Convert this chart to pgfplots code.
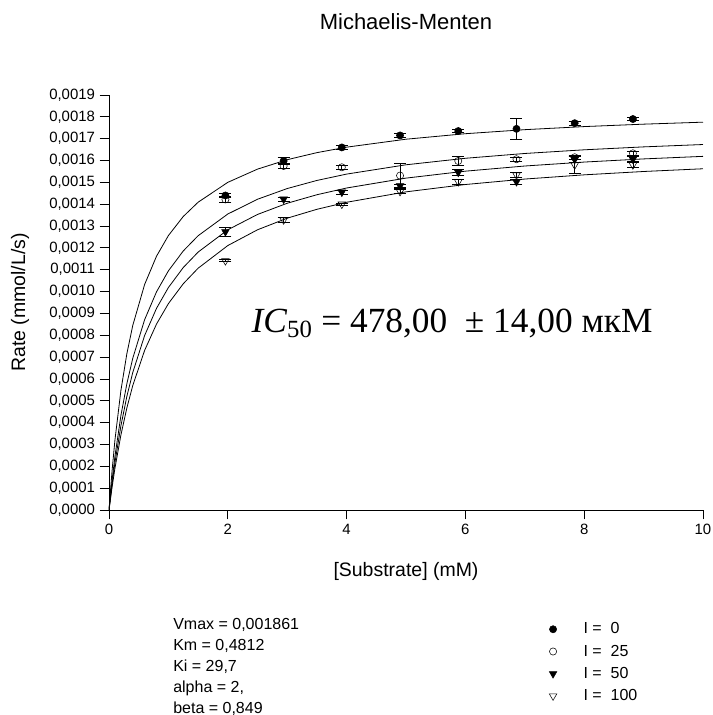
\documentclass[border=0pt]{standalone}
\usepackage{fontspec}
\setmainfont{Liberation Sans}
\newfontfamily\eqfont{Liberation Serif}
\usepackage{pgfplots}
\pgfplotsset{compat=1.18}

\begin{document}
\begin{tikzpicture}[x=0.75pt,y=0.75pt]
% picture frame in reference pixels, origin at the axis corner
\path[use as bounding box] (-109,-205) rectangle (604,510);
\begin{axis}[at={(0,0)}, anchor=south west, scale only axis, width=445.5pt, height=311.25pt,
  xmin=0, xmax=10, ymin=0, ymax=0.0019,
  axis x line*=bottom, axis y line*=left, axis line style={-, black, line width=0.6pt},
  xtick={0,2,4,6,8,10},
  ytick={0,0.0001,0.0002,0.0003,0.0004,0.0005,0.0006,0.0007,0.0008,0.0009,0.0010,0.0011,0.0012,0.0013,0.0014,0.0015,0.0016,0.0017,0.0018,0.0019},
  scaled y ticks=false,
  yticklabel style={/pgf/number format/.cd, fixed, fixed zerofill, precision=4, use comma, 1000 sep={}},
  /pgf/number format/assume math mode=true,
  tick align=outside, major tick length=7pt, tick style={black, line width=0.6pt},
  tick label style={font=\fontsize{11.2}{13}\selectfont},
  xlabel={[Substrate] (mM)}, ylabel={Rate (mmol/L/s)},
  label style={font=\fontsize{14.6}{17}\selectfont},
  xlabel style={at={(axis description cs:0.5,-0.147)}, anchor=center},
  ylabel style={at={(axis description cs:-0.1498,0.5)}, anchor=center},
  title={Michaelis-Menten}, title style={at={(axis description cs:0.5,1.1566)}, anchor=center, font=\fontsize{16.5}{19}\selectfont},
  legend style={draw=none, fill=none, at={(axis description cs:0.734,-0.258)}, anchor=north west,
    font=\fontsize{12}{14}\selectfont, row sep=2.8pt, /tikz/every odd column/.append style={column sep=18pt}},
  legend cell align=left,
  error bars/error bar style={black, line width=0.6pt},
  error bars/error mark options={rotate=90, black, mark size=4.5pt, line width=0.6pt},
]
% fitted curves
\addplot[black, line width=0.6pt, forget plot] coordinates {
(0,0) (0.05,0.0001752) (0.1,0.0003202) (0.2,0.0005464) (0.3,0.0007147) (0.4,0.0008448) (0.6,0.0010327) (0.8,0.0011620) (1,0.0012564) (1.25,0.0013437) (1.5,0.0014090) (2,0.0015001) (2.5,0.0015606) (3,0.0016038) (3.5,0.0016361) (4,0.0016612) (5,0.0016976) (6,0.0017228) (7,0.0017413) (8,0.0017554) (9,0.0017665) (10,0.0017756)};
\addplot[black, line width=0.6pt, forget plot] coordinates {
(0,0) (0.05,0.0001319) (0.1,0.0002456) (0.2,0.0004316) (0.3,0.0005773) (0.4,0.0006946) (0.6,0.0008716) (0.8,0.0009989) (1,0.0010948) (1.25,0.0011859) (1.5,0.0012556) (2,0.0013551) (2.5,0.0014227) (3,0.0014717) (3.5,0.0015088) (4,0.0015379) (5,0.0015805) (6,0.0016103) (7,0.0016323) (8,0.0016491) (9,0.0016625) (10,0.0016733)};
\addplot[black, line width=0.6pt, forget plot] coordinates {
(0,0) (0.05,0.0001153) (0.1,0.0002163) (0.2,0.0003846) (0.3,0.0005192) (0.4,0.0006294) (0.6,0.0007990) (0.8,0.0009234) (1,0.0010185) (1.25,0.0011100) (1.5,0.0011807) (2,0.0012829) (2.5,0.0013531) (3,0.0014044) (3.5,0.0014434) (4,0.0014742) (5,0.0015195) (6,0.0015513) (7,0.0015749) (8,0.0015930) (9,0.0016074) (10,0.0016191)};
\addplot[black, line width=0.6pt, forget plot] coordinates {
(0,0) (0.05,0.0001011) (0.1,0.0001908) (0.2,0.0003427) (0.3,0.0004666) (0.4,0.0005696) (0.6,0.0007309) (0.8,0.0008514) (1,0.0009448) (1.25,0.0010358) (1.5,0.0011069) (2,0.0012107) (2.5,0.0012829) (3,0.0013360) (3.5,0.0013767) (4,0.0014089) (5,0.0014566) (6,0.0014902) (7,0.0015152) (8,0.0015345) (9,0.0015498) (10,0.0015623)};
% measured rates
\addplot[only marks, mark=*, mark size=2.7pt, black, error bars/.cd, y dir=both, y explicit] coordinates {
(1.96,0.001440) +- (0,0.000010) (2.94,0.001598) +- (0,0.000015) (3.92,0.001660) +- (0,0.000008) (4.90,0.001715) +- (0,0.000010)
(5.88,0.001735) +- (0,0.000008) (6.86,0.001745) +- (0,0.000050) (7.84,0.001771) +- (0,0.000008) (8.82,0.001790) +- (0,0.000008)};
\addlegendentry{I =\ \ 0}
\addplot[only marks, mark=o, mark size=2.7pt, black, mark options={fill=white}, error bars/.cd, y dir=both, y explicit] coordinates {
(1.96,0.001422) +- (0,0.000012) (2.94,0.001575) +- (0,0.000010) (3.92,0.001569) +- (0,0.000010) (4.90,0.001531) +- (0,0.000058)
(5.88,0.001598) +- (0,0.000020) (6.86,0.001606) +- (0,0.000010) (7.84,0.001615) +- (0,0.000010) (8.82,0.001633) +- (0,0.000010)};
\addlegendentry{I =\ \ 25}
\addplot[only marks, mark=triangle*, mark size=3.3pt, black, mark options={rotate=180}, error bars/.cd, y dir=both, y explicit] coordinates {
(1.96,0.001274) +- (0,0.000022) (2.94,0.001423) +- (0,0.000010) (3.92,0.001455) +- (0,0.000008) (4.90,0.001484) +- (0,0.000008)
(5.88,0.001546) +- (0,0.000012) (6.86,0.001503) +- (0,0.000010) (7.84,0.001605) +- (0,0.000015) (8.82,0.001606) +- (0,0.000012)};
\addlegendentry{I =\ \ 50}
\addplot[only marks, mark=triangle, mark size=3.3pt, black, mark options={rotate=180, fill=white}, error bars/.cd, y dir=both, y explicit] coordinates {
(1.96,0.001141) +- (0,0.000005) (2.94,0.001328) +- (0,0.000012) (3.92,0.001400) +- (0,0.000005) (4.90,0.001458) +- (0,0.000010)
(5.88,0.001503) +- (0,0.000010) (6.86,0.001534) +- (0,0.000012) (7.84,0.001580) +- (0,0.000040) (8.82,0.001580) +- (0,0.000010)};
\addlegendentry{I =\ \ 100}
\end{axis}
\node[anchor=center] at (343,187) {\eqfont\fontsize{26.5}{30}\selectfont\textit{IC}\textsubscript{50} = 478,00\ \ ± 14,00 мкМ};
\node[anchor=north west, align=left, inner sep=0pt, font=\fontsize{12}{15.75}\selectfont] at (64,-108)
  {Vmax = 0,001861\\Km = 0,4812\\Ki = 29,7\\alpha = 2,\\beta = 0,849};
\end{tikzpicture}
\end{document}
